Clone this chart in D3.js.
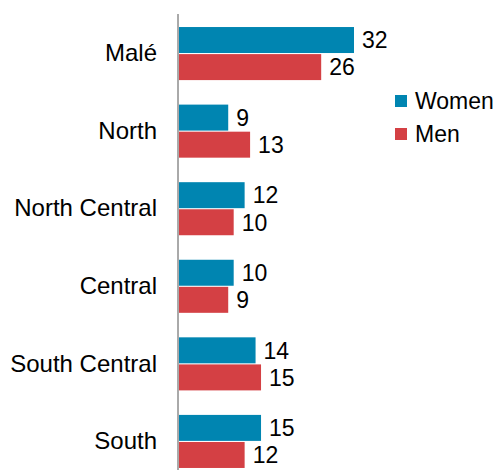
<!DOCTYPE html>
<html>
<head>
<meta charset="utf-8">
<script src="https://cdn.jsdelivr.net/npm/d3@7"></script>
<style>
  body { margin: 0; background: #fff; }
  text { font-family: "Liberation Sans", Arial, sans-serif; }
</style>
</head>
<body>
<div id="chart"></div>
<script>
let regions = ["Malé", "North", "North Central", "Central", "South Central", "South"];
let series = ["Women", "Men"];
let women = [32, 9, 12, 10, 14, 15];
let men = [26, 13, 10, 9, 15, 12];
let colors = ["#0085b1", "#d44044"];

let width = 497, height = 470;
let x0 = 179;

let svg = d3.select("#chart")
    .append("svg")
        .attr("width", width)
        .attr("height", height);

// X scale
let x = d3.scaleLinear()
    .domain([0, 32])
    .range([x0, 354]);

// Y scales
let y = d3.scaleBand()
    .domain(regions)
    .range([14, 481])
    .paddingInner(0.316)
    .paddingOuter(0.168);

let ySub = d3.scaleBand()
    .domain(series)
    .range([0, y.bandwidth()])
    .paddingInner(0.04);

let rows = [];
regions.forEach(function(r, i) {
    rows.push({region: r, key: "Women", value: women[i]});
    rows.push({region: r, key: "Men", value: men[i]});
});

// Bars
svg.selectAll("rect.bar")
    .data(rows)
    .enter()
    .append("rect")
        .attr("class", "bar")
        .attr("x", x(0))
        .attr("y", function(d) { return y(d.region) + ySub(d.key); })
        .attr("width", function(d) { return x(d.value) - x(0); })
        .attr("height", ySub.bandwidth())
        .attr("fill", function(d) { return colors[series.indexOf(d.key)]; });

// Value labels
svg.selectAll("text.val")
    .data(rows)
    .enter()
    .append("text")
        .attr("class", "val")
        .attr("x", function(d) { return x(d.value) + 8; })
        .attr("y", function(d) { return y(d.region) + ySub(d.key) + ySub.bandwidth() / 2; })
        .attr("dy", "0.36em")
        .style("font-size", "23px")
        .attr("fill", "#000")
        .text(function(d) { return d.value; });

// Y axis
let yAxis = svg.append("g")
    .attr("transform", "translate(" + (x0 - 1) + ",0)")
    .call(d3.axisLeft(y).tickSize(0).tickPadding(21));
yAxis.select(".domain").attr("stroke", "#555").attr("d", "M0,14V470");
yAxis.selectAll("text")
    .style("font-size", "24px")
    .style("font-family", "'Liberation Sans', Arial, sans-serif")
    .attr("fill", "#000");

// Legend
let legend = svg.append("g")
    .attr("transform", "translate(395,95)");
series.forEach(function(s, i) {
    legend.append("rect")
        .attr("x", 0)
        .attr("y", i * 33)
        .attr("width", 12)
        .attr("height", 12)
        .attr("fill", colors[i]);
    legend.append("text")
        .attr("x", 20)
        .attr("y", i * 33 + 6)
        .attr("dy", "0.36em")
        .style("font-size", "23px")
        .text(s);
});
</script>
</body>
</html>
